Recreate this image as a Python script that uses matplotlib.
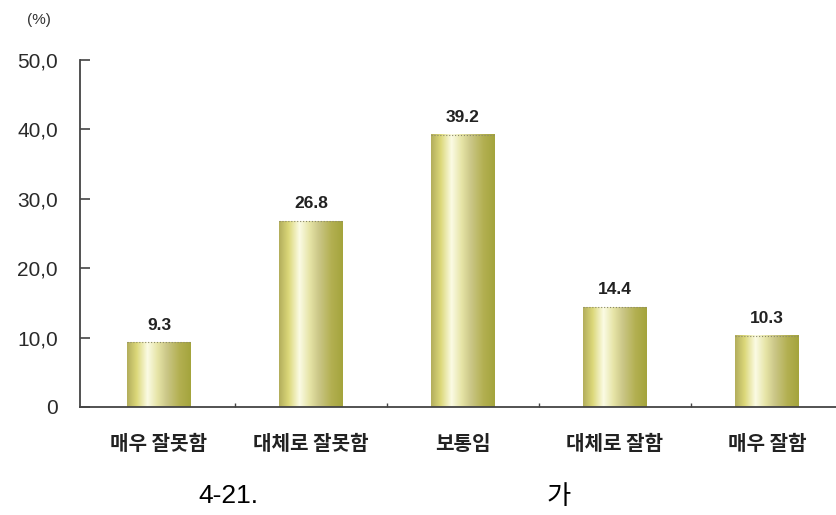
import numpy as np
import matplotlib.pyplot as plt
from matplotlib.colors import LinearSegmentedColormap

# data
categories = ["매우 잘못함", "대체로 잘못함", "보통임", "대체로 잘함", "매우 잘함"]
values = [9.3, 26.8, 39.2, 14.4, 10.3]
yticks = [0, 10, 20, 30, 40, 50]
ytick_labels = ["0", "10,0", "20,0", "30,0", "40,0", "50,0"]

kr = ["Noto Sans CJK KR", "DejaVu Sans"]
num = ["Liberation Sans", "DejaVu Sans"]

fig = plt.figure(figsize=(8.36, 5.15), dpi=100)
W, H = 836, 515
ax = fig.add_axes([80 / W, (H - 407) / H, (836 - 80) / W, (407 - 60) / H])

# bar gradient (olive / white highlight)
cmap = LinearSegmentedColormap.from_list("bar", [
    (0.0, "#b3ae5c"), (0.15, "#dcd87a"), (0.32, "#fbfbe4"),
    (0.48, "#e6e4a6"), (0.62, "#cbc788"), (0.82, "#b3b052"), (1.0, "#a4a43c")])
grad = np.linspace(0, 1, 200).reshape(1, -1)

x = np.arange(len(categories))
width = 0.415
bars = ax.bar(x, values, width=width, color="none", edgecolor="none", zorder=2)
for b, v in zip(bars, values):
    x0 = b.get_x()
    ax.imshow(grad, cmap=cmap, extent=[x0, x0 + width, 0, v], aspect="auto", zorder=2)
    ax.plot([x0, x0 + width], [v, v], color="#8c8a6a", lw=0.8, ls=":", zorder=3)
    ax.text(b.get_x() + width / 2, v + 1.4, f"{v:.1f}", ha="center", va="bottom",
            fontsize=12.5, fontweight="bold", family=num, color="#222222")

ax.set_xlim(-0.52, 4.454)
ax.set_ylim(0, 50)

for s in ["top", "right"]:
    ax.spines[s].set_visible(False)
ax.spines["left"].set_linewidth(1.3)
ax.spines["bottom"].set_linewidth(1.3)
ax.spines["left"].set_color("#444444")
ax.spines["bottom"].set_color("#444444")

ax.set_yticks(yticks)
ax.set_yticklabels(ytick_labels, family=num, fontsize=15, color="#2a2a2a")
ax.tick_params(axis="y", direction="in", length=7, width=1.2, pad=16, color="#444444")

# category boundary ticks on x axis
ax.set_xticks(x[:-1] + 0.5, minor=False)
ax.set_xticklabels([])
ax.tick_params(axis="x", direction="in", length=3, width=1.0, color="#444444")
for xi, c in zip(x, categories):
    ax.text(xi, -5.2, c, ha="center", va="center", fontsize=14.5, fontweight="bold",
            family=kr, color="#222222")

fig.text(27 / W, 1 - 20 / H, "(%)", fontsize=11, family=num, va="center", color="#333333")

fig.text(198 / W, 1 - 496 / H, "4-21.", fontsize=19, family=num,
         va="center", ha="left")
fig.text(547 / W, 1 - 496 / H, "가", fontsize=19, family=kr, va="center", ha="left")

fig.savefig("out.png", dpi=100)
